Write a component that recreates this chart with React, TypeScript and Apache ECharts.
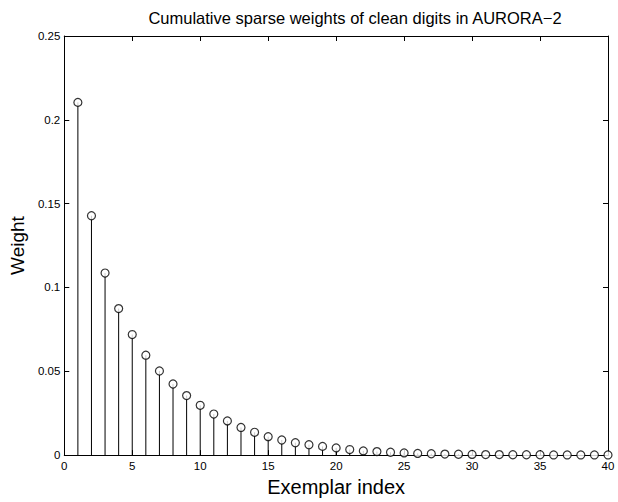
import React, { useEffect, useRef } from "react";
import * as echarts from "echarts";

const titleText = "Cumulative sparse weights of clean digits in AURORA\u22122";
const xAxisName = "Exemplar index";
const yAxisName = "Weight";

const exemplarIndex = [
  1, 2, 3, 4, 5, 6, 7, 8, 9, 10, 11, 12, 13, 14, 15, 16, 17, 18, 19, 20,
  21, 22, 23, 24, 25, 26, 27, 28, 29, 30, 31, 32, 33, 34, 35, 36, 37, 38, 39, 40,
];
const weights = [
  0.2104, 0.1428, 0.1086, 0.0874, 0.0719, 0.0596, 0.0502, 0.0424, 0.0355, 0.0297,
  0.0245, 0.0204, 0.0165, 0.0136, 0.011, 0.009, 0.0074, 0.0062, 0.0052, 0.0043,
  0.0033, 0.0025, 0.0021, 0.0017, 0.0013, 0.001, 0.0008, 0.0006, 0.0005, 0.0004,
  0.0003, 0.0003, 0.0002, 0.0002, 0.0002, 0.0001, 0.0001, 0.0001, 0.0001, 0.0001,
];
const xMin = 0, xMax = 40, xStep = 5;
const yMin = 0, yMax = 0.25, yStep = 0.05;

export default function App() {
  const ref = useRef<HTMLDivElement>(null);
  useEffect(() => {
    if (!ref.current) return;
    const chart = echarts.init(ref.current, null, { renderer: "svg" });
    const font = "'Liberation Sans', Arial, Helvetica, sans-serif";
    const data = exemplarIndex.map((x, i) => [x, weights[i]]);
    const axisCommon = {
      axisLine: { show: true, onZero: false, lineStyle: { color: "#000", width: 1 } },
      axisTick: { show: true, inside: true, length: 5, lineStyle: { color: "#000" } },
      splitLine: { show: false },
    };
    chart.setOption({
      animation: false,
      backgroundColor: "#fff",
      textStyle: { fontFamily: font },
      title: {
        text: titleText,
        left: 350,
        top: 4,
        textAlign: "center",
        textStyle: { fontFamily: font, fontSize: 16.5, fontWeight: "normal", color: "#000" },
      },
      grid: { left: 64, right: 10, top: 36, bottom: 37, containLabel: false },
      xAxis: [
        {
          type: "value", min: xMin, max: xMax, interval: xStep,
          ...axisCommon,
          axisLabel: { color: "#000", fontSize: 11.5, fontFamily: font, margin: 5 },
          name: xAxisName, nameLocation: "middle", nameGap: 18,
          nameTextStyle: { color: "#000", fontSize: 20, fontFamily: font },
        },
        {
          type: "value", min: xMin, max: xMax, interval: xStep, position: "top",
          ...axisCommon, axisLabel: { show: false },
        },
      ],
      yAxis: [
        {
          type: "value", min: yMin, max: yMax, interval: yStep,
          ...axisCommon,
          axisLabel: { color: "#000", fontSize: 11.5, fontFamily: font, margin: 4 },
          name: yAxisName, nameLocation: "middle", nameGap: 36,
          nameTextStyle: { color: "#000", fontSize: 19, fontFamily: font },
        },
        {
          type: "value", min: yMin, max: yMax, interval: yStep, position: "right",
          ...axisCommon, axisLabel: { show: false },
        },
      ],
      series: [
        {
          type: "custom",
          xAxisIndex: 0, yAxisIndex: 0,
          data,
          renderItem: (params: any, api: any) => {
            const x = api.value(0);
            const y = api.value(1);
            const p0 = api.coord([x, 0]);
            const p1 = api.coord([x, y]);
            return {
              type: "line",
              shape: { x1: p0[0], y1: p0[1], x2: p1[0], y2: p1[1] },
              style: { stroke: "#000", lineWidth: 1 },
            };
          },
          z: 2,
        },
        {
          type: "scatter",
          xAxisIndex: 0, yAxisIndex: 0,
          data,
          symbol: "circle",
          symbolSize: 8,
          itemStyle: { color: "#fff", borderColor: "#000", borderWidth: 1.2 },
          z: 3,
        },
      ],
    });
    return () => chart.dispose();
  }, []);
  return (
    <div
      ref={ref}
      style={{ position: "fixed", left: 0, top: 0, width: 618, height: 502 }}
    />
  );
}
